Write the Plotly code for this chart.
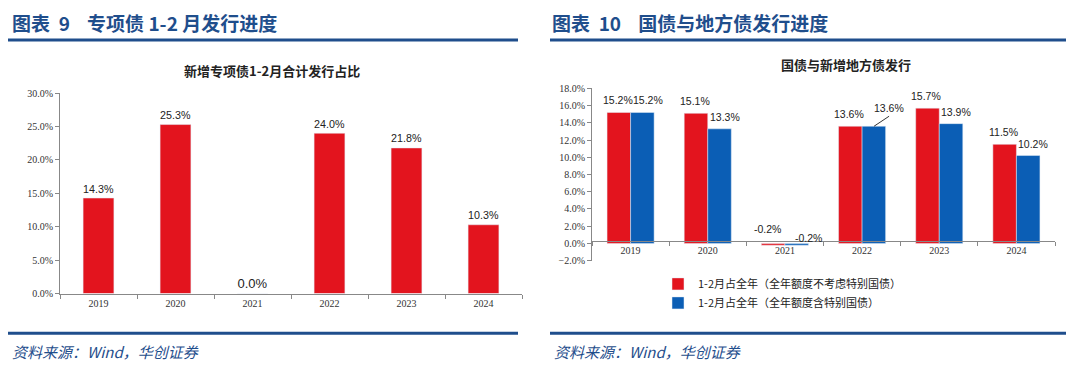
import plotly.graph_objects as go

# ---- data ----
years = ["2019", "2020", "2021", "2022", "2023", "2024"]
special_bond_share = [14.3, 25.3, 0.0, 24.0, 21.8, 10.3]
share_excl_special = [15.2, 15.1, -0.2, 13.6, 15.7, 11.5]
share_incl_special = [15.2, 13.3, -0.2, 13.6, 13.9, 10.2]
legend_names = ["1-2月占全年（全年额度不考虑特别国债）", "1-2月占全年（全年额度含特别国债）"]

W, H = 1080, 379
RED = "#E3141E"
BLUE = "#0B5EB5"
NAVY = "#1F4E8C"
SERIF = "Liberation Serif, Times New Roman, serif"
SANS = "Liberation Sans, Arial, sans-serif"
CJK = "Noto Sans CJK SC"
LEADER_IDX = 3  # the blue label drawn with a short leader line

def px(x):
    return x / W

def py(y):
    return 1 - y / H

fig = go.Figure()

fig.add_trace(go.Bar(
    x=years, y=special_bond_share, marker_color=RED, width=0.4,
    text=[f"{v:.1f}%" for v in special_bond_share], textposition="outside",
    textfont=dict(family=SANS, size=13, color="#222"), cliponaxis=False,
    showlegend=False, xaxis="x", yaxis="y",
))
fig.add_trace(go.Bar(
    x=years, y=share_excl_special, marker_color=RED, name=legend_names[0],
    xaxis="x2", yaxis="y2",
))
fig.add_trace(go.Bar(
    x=years, y=share_incl_special, marker_color=BLUE, name=legend_names[1],
    xaxis="x2", yaxis="y2",
))

lab_font = dict(family=SANS, size=10.5, color="#222")
ann = []
# category axes take annotation positions as category indices
for i, (a, b) in enumerate(zip(share_excl_special, share_incl_special)):
    ann.append(dict(x=i, y=max(a, 0), xref="x2", yref="y2", text=f"{a:.1f}%",
                    xshift=-13 if a >= 0 else -17, yshift=4 if a >= 0 else 6,
                    yanchor="bottom", showarrow=False, font=lab_font))
    if i == LEADER_IDX:
        ann.append(dict(x=i, y=b, xref="x2", yref="y2", text=f"{b:.1f}%",
                        xshift=12, showarrow=True, arrowhead=0, arrowwidth=1,
                        arrowcolor="#333", ax=15, ay=-10, xanchor="center",
                        yanchor="bottom", font=lab_font, standoff=0))
    else:
        ann.append(dict(x=i, y=max(b, 0), xref="x2", yref="y2", text=f"{b:.1f}%",
                        xshift=17 if b >= 0 else 24, yshift=4 if b >= 0 else -3,
                        yanchor="bottom", showarrow=False, font=lab_font))

# titles and footers
ann += [
    dict(x=px(10), y=py(17), xref="paper", yref="paper", xanchor="left", yanchor="middle",
         text="<b>图表  9    专项债 1-2 月发行进度</b>", showarrow=False,
         font=dict(family=CJK, size=19, color=NAVY)),
    dict(x=px(550), y=py(17), xref="paper", yref="paper", xanchor="left", yanchor="middle",
         text="<b>图表  10    国债与地方债发行进度</b>", showarrow=False,
         font=dict(family=CJK, size=19, color=NAVY)),
    dict(x=px(272), y=py(67), xref="paper", yref="paper", xanchor="center", yanchor="middle",
         text="<b>新增专项债1-2月合计发行占比</b>", showarrow=False,
         font=dict(family=CJK, size=13, color="#222")),
    dict(x=px(846), y=py(60), xref="paper", yref="paper", xanchor="center", yanchor="middle",
         text="<b>国债与新增地方债发行</b>", showarrow=False,
         font=dict(family=CJK, size=13, color="#222")),
    dict(x=px(10), y=py(357), xref="paper", yref="paper", xanchor="left", yanchor="middle",
         text="<i>资料来源：Wind，华创证券</i>", showarrow=False,
         font=dict(family=CJK, size=15, color=NAVY)),
    dict(x=px(552), y=py(357), xref="paper", yref="paper", xanchor="left", yanchor="middle",
         text="<i>资料来源：Wind，华创证券</i>", showarrow=False,
         font=dict(family=CJK, size=15, color=NAVY)),
]

shapes = []
for x0, x1 in [(8, 518), (550, 1066)]:
    for yy in (35, 338):
        shapes.append(dict(type="line", xref="paper", yref="paper",
                           x0=px(x0), x1=px(x1), y0=py(yy), y1=py(yy),
                           line=dict(color=NAVY, width=3)))

axis_font = dict(family=SERIF, size=10, color="#333")
fig.update_layout(
    width=W, height=H, margin=dict(l=0, r=0, t=0, b=0),
    paper_bgcolor="white", plot_bgcolor="white",
    barmode="group", bargap=0.39, bargroupgap=0,
    annotations=ann, shapes=shapes,
    xaxis=dict(domain=[px(60), px(522)], anchor="y", type="category",
               showline=True, linecolor="#888", linewidth=1, ticks="outside",
               tickson="boundaries", ticklen=4, tickcolor="#888",
               tickfont=axis_font, showgrid=False),
    yaxis=dict(domain=[py(297), py(90)], anchor="x", range=[0, 30], dtick=5,
               tickformat=".1f", ticksuffix="%", showline=True, linecolor="#888",
               ticks="outside", ticklen=4, tickcolor="#888", tickfont=axis_font,
               showgrid=False, zeroline=False),
    xaxis2=dict(domain=[px(592), px(1055)], anchor="free", position=py(243),
                type="category", showline=True, linecolor="#888", linewidth=1,
                ticks="outside", tickson="boundaries", ticklen=4, tickcolor="#888",
                tickfont=axis_font, showgrid=False, tickangle=0),
    yaxis2=dict(domain=[py(263), py(85)], anchor="x2",
                range=[-2, 18], dtick=2, tickformat=".1f", ticksuffix="%",
                showline=True, linecolor="#888", ticks="outside", ticklen=4,
                tickcolor="#888", tickfont=axis_font, showgrid=False, zeroline=False),
    legend=dict(x=px(658), y=py(272), xanchor="left", yanchor="top",
                font=dict(family=CJK, size=11, color="#222"), bgcolor="rgba(0,0,0,0)",
                tracegroupgap=2, itemwidth=30),
)

fig.write_html("out.html", config={"displayModeBar": False},
               post_script="document.body.style.margin='0px';")
